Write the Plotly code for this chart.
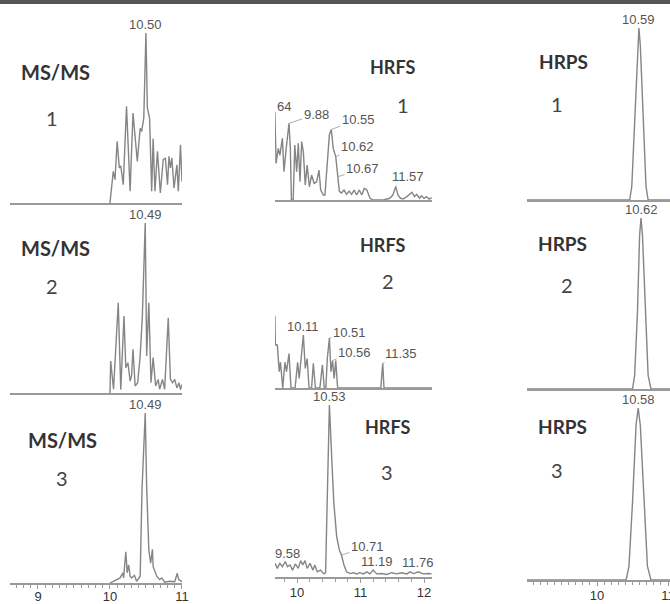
import plotly.graph_objects as go

W, H = 670, 604

# ---------------- data (retention time [min], relative intensity [%]) ----------------
msms1_t = [10.00, 10.046, 10.07, 10.10, 10.13, 10.15, 10.185, 10.23, 10.28, 10.32, 10.38, 10.42, 10.44, 10.47,
           10.50, 10.52, 10.55, 10.58, 10.60, 10.625, 10.66, 10.70, 10.74, 10.77, 10.80, 10.82, 10.84, 10.86,
           10.89, 10.93, 10.95, 10.98, 11.00]
msms1_i = [0, 18.6, 13.7, 36.3, 20.6, 21.8, 10.8, 56.9, 6.9, 52.9, 24.5, 44, 42, 50,
           100, 55.9, 50, 6.9, 38, 6.9, 30.4, 5.9, 25.5, 26.5, 10.8, 27.5, 20.6, 26.5,
           8.8, 22.5, 6.9, 34.3, 12.7]

msms2_t = [10.00, 10.01, 10.05, 10.115, 10.15, 10.195, 10.22, 10.25, 10.28, 10.30, 10.32, 10.35, 10.385, 10.42,
           10.45, 10.49, 10.51, 10.54, 10.57, 10.60, 10.635, 10.67, 10.69, 10.73, 10.76, 10.81, 10.84, 10.87,
           10.90, 10.93, 10.96, 10.98, 11.00]
msms2_i = [0, 18.8, 2.2, 53.1, 2, 45.3, 14.9, 17.8, 7, 10, 25.7, 4.1, 6, 21.8,
           45.3, 100, 21.8, 53.1, 6, 20.8, 4.1, 8, 2.2, 8, 2.2, 44.3, 8, 6,
           8, 3, 6, 2, 5]

msms3_t = [10.00, 10.07, 10.14, 10.18, 10.19, 10.22, 10.24, 10.26, 10.28, 10.30, 10.34, 10.37, 10.41, 10.42,
           10.445, 10.49, 10.51, 10.54, 10.565, 10.59, 10.60, 10.62, 10.65, 10.69, 10.72, 10.76, 10.83, 10.90,
           10.935, 10.955, 11.00]
msms3_i = [0, 1.5, 3, 6, 3, 18.4, 6, 10.6, 4, 3, 4.5, 1, 3, 4,
           54.7, 100, 56.7, 19.4, 11.6, 19.8, 9.6, 7.6, 4, 2, 3, 0.5, 1, 0.8,
           5.7, 2, 0.8]

hrfs1_t = [9.652, 9.67, 9.705, 9.73, 9.77, 9.795, 9.83, 9.874, 9.895, 9.912, 9.94, 9.965, 9.995, 10.02,
           10.047, 10.074, 10.10, 10.13, 10.16, 10.195, 10.23, 10.27, 10.31, 10.346, 10.373, 10.415, 10.44,
           10.477, 10.51, 10.54, 10.57, 10.61, 10.64, 10.667, 10.70, 10.74, 10.78, 10.82, 10.86, 10.90,
           10.94, 10.98, 11.02, 11.06, 11.10, 11.15, 11.20, 11.36, 11.46, 11.51, 11.555, 11.59, 11.63,
           11.67, 11.73, 11.78, 11.81, 11.85, 11.885, 11.93, 11.96, 12.00, 12.04, 12.08, 12.12]
hrfs1_i = [51, 21.3, 30, 26, 35.9, 16.5, 30, 44.6, 30, 0, 0, 32, 16.5, 33,
           10.6, 34, 28, 8.7, 20.3, 7.7, 14.5, 9.7, 10.6, 17.4, 5.8, 2.9, 2.9,
           20.3, 38, 41, 30, 25.2, 13.5, 5, 4, 5.8, 3.3, 5.2, 3.3, 5.8,
           2.9, 5.8, 2.9, 6.8, 5.8, 1, 0, 0, 1, 2.9, 7.8, 2.9, 1,
           0.6, 2, 3.3, 4.5, 2, 3.3, 1, 2.5, 1, 2, 0.5, 1.4]

hrfs2_t = [9.652, 9.66, 9.69, 9.72, 9.74, 9.775, 9.81, 9.835, 9.874, 9.905, 9.97, 10.01, 10.035, 10.10,
           10.13, 10.16, 10.19, 10.23, 10.257, 10.29, 10.36, 10.40, 10.43, 10.455, 10.477, 10.51, 10.535,
           10.56, 10.585, 10.61, 10.64, 11.32, 11.35, 11.37, 12.13]
hrfs2_i = [42, 25, 25, 9.5, 15, 0, 15, 9.5, 20, 0, 0, 15, 5.6, 30.8,
           11.4, 17, 0, 0, 14.3, 0, 0, 13.4, 0, 0, 17, 29, 9.5,
           16, 5.6, 16, 0, 0, 14.3, 0, 0]

hrfs3_t = [9.654, 9.69, 9.73, 9.77, 9.816, 9.85, 9.89, 9.93, 9.974, 10.02, 10.058, 10.09, 10.126, 10.16,
           10.205, 10.25, 10.28, 10.32, 10.37, 10.425, 10.45, 10.477, 10.51, 10.546, 10.58, 10.625, 10.667,
           10.70, 10.74, 10.78, 10.835, 10.89, 10.94, 10.99, 11.045, 11.10, 11.15, 11.20, 11.255, 11.33,
           11.41, 11.49, 11.57, 11.65, 11.73, 11.78, 11.84, 11.91, 11.99, 12.07, 12.12]
hrfs3_i = [8, 5, 8, 6, 9, 6, 7, 4, 7.6, 5, 9.5, 7, 9.5, 5,
           8, 4, 7, 3, 4, 1.8, 2.5, 50.6, 100, 70, 43, 23.5, 15.7,
           12.8, 7, 3, 2, 2.5, 1.8, 2.5, 1.8, 3, 1.8, 4, 1.8, 2,
           1.5, 2.5, 1.8, 2.5, 1.8, 3, 2, 3, 1.8, 2, 1.8]

hrps1_t = [9.0, 10.46, 10.49, 10.53, 10.57, 10.59, 10.61, 10.65, 10.69, 10.72, 11.05]
hrps1_i = [0, 0, 8, 45, 90, 100, 90, 45, 8, 0, 0]
hrps2_t = [9.0, 10.50, 10.53, 10.57, 10.60, 10.62, 10.64, 10.68, 10.72, 10.76, 11.05]
hrps2_i = [0, 0, 8, 45, 90, 100, 90, 45, 8, 0, 0]
hrps3_t = [9.0, 10.41, 10.45, 10.50, 10.55, 10.58, 10.61, 10.66, 10.71, 10.76, 11.05]
hrps3_i = [0, 0, 8, 45, 90, 100, 90, 45, 8, 0, 0]

series = [
    [(msms1_t, msms1_i), (hrfs1_t, hrfs1_i), (hrps1_t, hrps1_i)],
    [(msms2_t, msms2_i), (hrfs2_t, hrfs2_i), (hrps2_t, hrps2_i)],
    [(msms3_t, msms3_i), (hrfs3_t, hrfs3_i), (hrps3_t, hrps3_i)],
]

method_names = ["MS/MS", "HRFS", "HRPS"]
sample_ids = ["1", "2", "3"]
tick_values = [[9, 10, 11], [10, 11, 12], [10, 11]]

# peak labels: (row, col, time, intensity, text, ax, ay)  ax/ay = label offset in px
peak_labels = [
    (0, 0, 10.50, 100, "10.50", 0, None),
    (1, 0, 10.49, 100, "10.49", 0, None),
    (2, 0, 10.49, 100, "10.49", 0, None),
    (0, 2, 10.59, 100, "10.59", 0, None),
    (1, 2, 10.62, 100, "10.62", 0, None),
    (2, 2, 10.58, 100, "10.58", 0, None),
    (2, 1, 10.51, 100, "10.53", 0, None),
    (1, 1, 10.10, 30.8, "10.11", 0, None),
    (0, 1, 9.874, 44.6, "9.88", 27, -9),
    (0, 1, 10.54, 41, "10.55", 27, -10),
    (0, 1, 10.61, 25.2, "10.62", 22, -10),
    (0, 1, 10.64, 13.5, "10.67", 25, -8),
    (0, 1, 11.555, 7.8, "11.57", 12, -10),
    (1, 1, 9.652, 42, "9.66", 12, -8),
    (1, 1, 10.51, 29, "10.51", 20, -6),
    (1, 1, 10.56, 16, "10.56", 22, -8),
    (1, 1, 11.35, 14.3, "11.35", 18, -10),
    (2, 1, 10.70, 12.8, "10.71", 26, -8),
    (2, 1, 11.20, 4, "11.19", 4, -9),
    (2, 1, 11.78, 3, "11.76", 8, -9),
]

# ---------------- layout geometry (pixels) ----------------
col_px = [(10, 182), (275, 432), (527, 670)]
col_rng = [[8.611, 11.001], [9.6535, 12.126], [9.014, 11.028]]
row_px = [  # per column: (baseline, top of 100 %)
    [(203, 33), (393, 223), (583, 413)],
    [(200, 28), (388, 216), (577, 405)],
    [(200, 28), (389, 218), (580, 408)],
]
title_pos = [  # per column, per row: (title cx, cy, number cx, cy)
    [(55, 72, 52, 118), (55, 248, 52, 286), (62, 440, 62, 478)],
    [(392, 67, 403, 105), (382, 245, 388, 281), (387, 427, 387, 472)],
    [(563, 62, 557, 104), (562, 243, 567, 285), (562, 426, 557, 470)],
]
title_sizes = [20, 18, 19]
tick_standoff = [-3, -1, -1]

LINE = "#858585"
AXIS = "#9a9a9a"
NUMFONT = "Liberation Sans, Arial, sans-serif"
TXTFONT = "Lato, 'Open Sans', sans-serif"

fig = go.Figure()
layout = dict(
    width=W, height=H, margin=dict(l=0, r=0, t=0, b=0),
    paper_bgcolor="white", plot_bgcolor="white", showlegend=False,
)
annotations = []

def fx(px):
    return px / W

def fy(py):
    return 1 - py / H

for r in range(3):
    for c in range(3):
        k = r * 3 + c + 1
        xa = "xaxis" if k == 1 else f"xaxis{k}"
        ya = "yaxis" if k == 1 else f"yaxis{k}"
        xr = "x" if k == 1 else f"x{k}"
        yr = "y" if k == 1 else f"y{k}"
        base, top = row_px[c][r]
        h = base - top
        t, i = series[r][c]
        fig.add_trace(go.Scatter(x=t, y=i, mode="lines", xaxis=xr, yaxis=yr,
                                 line=dict(color=LINE, width=1.4), hoverinfo="skip"))
        x0, x1 = col_px[c]
        xdict = dict(domain=[fx(x0), fx(x1)], range=col_rng[c], anchor=yr,
                     showline=True, linecolor=AXIS, linewidth=1.6,
                     showgrid=False, zeroline=False, automargin=False, fixedrange=True)
        if r == 2:
            xdict.update(ticks="outside", ticklen=4, tickwidth=1, tickcolor=AXIS,
                         tickvals=tick_values[c], showticklabels=True,
                         ticklabeloverflow="allow", ticklabelstandoff=tick_standoff[c],
                         tickfont=dict(family=NUMFONT, size=13, color="#333333"),
                         minor=dict(dtick=0.2 if c == 1 else 0.1, tick0=0, ticks="outside",
                                    ticklen=3, tickcolor=AXIS, tickwidth=1, showgrid=False))
        else:
            xdict.update(ticks="", showticklabels=False)
        layout[xa] = xdict
        layout[ya] = dict(domain=[fy(base), fy(top - 2)], range=[0, 100 * (h + 2) / h],
                          anchor=xr, visible=False, showgrid=False, zeroline=False,
                          fixedrange=True)
        tcx, tcy, ncx, ncy = title_pos[c][r]
        annotations.append(dict(text=f"<b>{method_names[c]}</b>", x=fx(tcx), y=fy(tcy),
                                xref="paper", yref="paper", showarrow=False,
                                xanchor="center", yanchor="middle",
                                font=dict(family=TXTFONT, size=title_sizes[c], color="#333333")))
        annotations.append(dict(text=sample_ids[r], x=fx(ncx), y=fy(ncy),
                                xref="paper", yref="paper", showarrow=False,
                                xanchor="center", yanchor="middle",
                                font=dict(family=TXTFONT, size=20, color="#444444")))

for (r, c, t, i, txt, ax, ay) in peak_labels:
    k = r * 3 + c + 1
    xr = "x" if k == 1 else f"x{k}"
    yr = "y" if k == 1 else f"y{k}"
    lab = dict(x=t, y=i, xref=xr, yref=yr, text=txt,
               font=dict(family=NUMFONT, size=13, color="#555555"))
    if ay is None:
        lab.update(showarrow=False, yanchor="bottom", yshift=-1)
    else:
        lab.update(showarrow=True, arrowhead=0, arrowwidth=0.8, arrowcolor="#999999",
                   ax=ax, ay=ay, standoff=0)
    annotations.append(lab)

# labels of peaks that lie just outside the visible window
annotations.append(dict(text="64", x=fx(275), y=fy(107), xref="paper", yref="paper",
                        showarrow=False, xanchor="left", yanchor="middle",
                        font=dict(family=NUMFONT, size=13, color="#555555")))
annotations.append(dict(text="9.58", x=fx(273), y=fy(553), xref="paper", yref="paper",
                        showarrow=False, xanchor="left", yanchor="middle",
                        font=dict(family=NUMFONT, size=13, color="#555555")))

layout["annotations"] = annotations
layout["shapes"] = [
    dict(type="rect", xref="paper", yref="paper", x0=0, x1=1, y0=fy(4), y1=1,
         fillcolor="#555555", line=dict(width=0), layer="above"),
]
fig.update_layout(**layout)
fig.write_html("out.html")
